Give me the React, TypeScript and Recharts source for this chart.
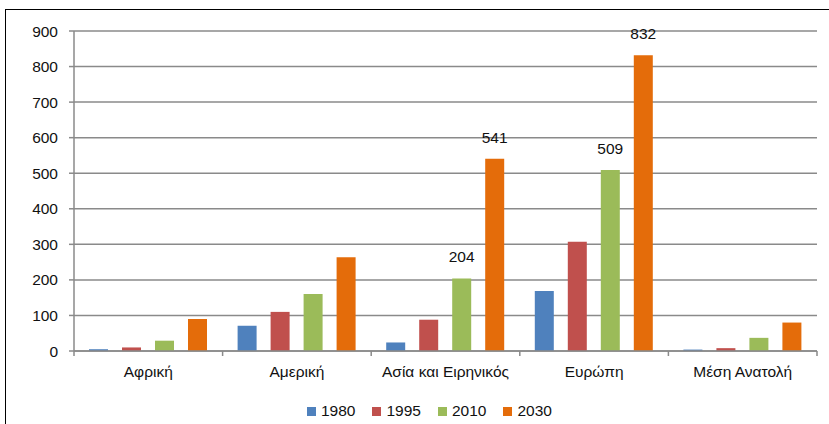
import React from 'react';
import { BarChart, Bar, XAxis, YAxis, CartesianGrid, LabelList } from 'recharts';

const categories = ['Αφρική', 'Αμερική', 'Ασία και Ειρηνικός', 'Ευρώπη', 'Μέση Ανατολή'];
const seriesNames = ['1980', '1995', '2010', '2030'];
const values1980 = [5, 71, 24, 169, 4];
const values1995 = [10, 110, 88, 307, 8];
const values2010 = [29, 160, 204, 509, 37];
const values2030 = [90, 264, 541, 832, 80];
const labels2010 = [null, null, 204, 509, null];
const labels2030 = [null, null, 541, 832, null];
const yTicks = [0, 100, 200, 300, 400, 500, 600, 700, 800, 900];
const colors = ['#4F81BD', '#C0504D', '#9BBB59', '#E46C0A'];

const data = categories.map((c, i) => ({
  name: c,
  s1980: values1980[i],
  s1995: values1995[i],
  s2010: values2010[i],
  s2030: values2030[i],
  l2010: labels2010[i],
  l2030: labels2030[i],
}));

const FONT = '"Liberation Sans", Arial, sans-serif';
const TEXT = '#111111';
const GRID = '#8a8a8a';

const XTick = (props: any) => {
  const { x, y, payload, index } = props;
  const half = payload && payload.offset ? payload.offset : 74.3;
  return (
    <g>
      <line x1={x - half} x2={x - half} y1={y} y2={y + 5} stroke={GRID} strokeWidth={1.5} />
      {index === categories.length - 1 && (
        <line x1={x + half} x2={x + half} y1={y} y2={y + 5} stroke={GRID} strokeWidth={1.5} />
      )}
      <text x={x} y={y + 26} textAnchor="middle" fill={TEXT} fontSize={15.5} fontFamily={FONT}>
        {payload.value}
      </text>
    </g>
  );
};

export default function App() {
  return (
    <div style={{ position: 'absolute', left: 0, top: 0, width: 829, height: 424, background: '#fff', overflow: 'hidden' }}>
      <div
        style={{
          position: 'absolute',
          left: 5,
          top: 9,
          width: 900,
          height: 600,
          borderLeft: '1.5px solid #000',
          borderTop: '1.5px solid #000',
        }}
      />
      <BarChart
        width={829}
        height={424}
        data={data}
        margin={{ top: 31, right: 12, bottom: 0, left: 0 }}
        barSize={19}
        barGap={14}
      >
        <CartesianGrid vertical={false} stroke={GRID} strokeWidth={1.5} />
        <XAxis
          dataKey="name"
          tick={<XTick />}
          tickLine={false}
          tickSize={0}
          tickMargin={0}
          axisLine={{ stroke: GRID, strokeWidth: 1.5 }}
          interval={0}
          height={73}
        />
        <YAxis
          width={74}
          domain={[0, 900]}
          ticks={yTicks}
          interval={0}
          tickSize={5}
          tickMargin={11}
          axisLine={{ stroke: GRID, strokeWidth: 1.5 }}
          tickLine={{ stroke: GRID, strokeWidth: 1.5 }}
          tick={{ fill: TEXT, fontSize: 15.5, fontFamily: FONT }}
        />
        <Bar dataKey="s1980" name="1980" fill={colors[0]} isAnimationActive={false} />
        <Bar dataKey="s1995" name="1995" fill={colors[1]} isAnimationActive={false} />
        <Bar dataKey="s2010" name="2010" fill={colors[2]} isAnimationActive={false}>
          <LabelList dataKey="l2010" position="top" offset={16} fill={TEXT} fontSize={15.5} fontFamily={FONT} />
        </Bar>
        <Bar dataKey="s2030" name="2030" fill={colors[3]} isAnimationActive={false}>
          <LabelList dataKey="l2030" position="top" offset={16} fill={TEXT} fontSize={15.5} fontFamily={FONT} />
        </Bar>
      </BarChart>
      <div
        style={{
          position: 'absolute',
          left: 307,
          top: 402,
          display: 'flex',
          alignItems: 'center',
          fontFamily: FONT,
          fontSize: 15.5,
          lineHeight: '18px',
          color: TEXT,
        }}
      >
        {seriesNames.map((s, i) => (
          <div key={s} style={{ display: 'flex', alignItems: 'center', marginRight: 17 }}>
            <span style={{ display: 'inline-block', width: 9, height: 9, background: colors[i], marginRight: 5 }} />
            <span>{s}</span>
          </div>
        ))}
      </div>
    </div>
  );
}
